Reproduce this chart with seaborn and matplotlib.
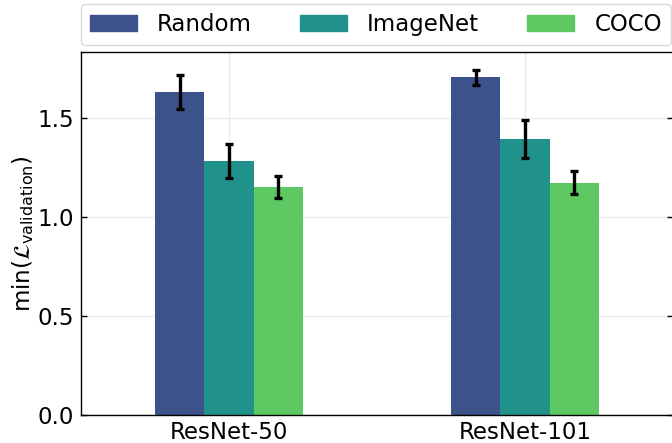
import matplotlib
matplotlib.use("Agg")
import matplotlib.pyplot as plt
import seaborn as sns
import pandas as pd
import numpy as np

# Backbone architectures and pretraining initialisations
models = ["ResNet-50", "ResNet-101"]
inits = ["Random", "ImageNet", "COCO"]

# Minimum validation loss (mean and standard deviation over runs)
random_mean = [1.63, 1.705]
random_std = [0.085, 0.037]
imagenet_mean = [1.283, 1.392]
imagenet_std = [0.086, 0.095]
coco_mean = [1.153, 1.172]
coco_std = [0.056, 0.058]

means = {"Random": random_mean, "ImageNet": imagenet_mean, "COCO": coco_mean}
stds = {"Random": random_std, "ImageNet": imagenet_std, "COCO": coco_std}

df = pd.DataFrame(
    [(m, init, means[init][i], stds[init][i])
     for init in inits for i, m in enumerate(models)],
    columns=["model", "init", "loss", "std"],
)

sns.set_theme(style="whitegrid")
plt.rcParams["font.family"] = ["DejaVu Sans"]
plt.rcParams["mathtext.fontset"] = "dejavusans"
for key in ["text.color", "axes.labelcolor", "xtick.color", "ytick.color"]:
    plt.rcParams[key] = "black"
FS = 16.5

fig = plt.figure(figsize=(6.72, 4.43), dpi=100)
ax = fig.add_axes([81 / 672, 28 / 443, 592 / 672, 362.5 / 443])

palette = sns.color_palette("viridis", 3)
sns.barplot(data=df, x="model", y="loss", hue="init", order=models,
            hue_order=inits, palette=palette, width=0.5, errorbar=None,
            saturation=1, linewidth=0, ax=ax)

# Error bars on top of each bar
for init, cont in zip(inits, ax.containers):
    for i, bar in enumerate(cont):
        xc = bar.get_x() + bar.get_width() / 2
        ax.errorbar(xc, means[init][i], yerr=stds[init][i], color="black",
                    elinewidth=2.4, capsize=3.2, capthick=2.4, zorder=5)

ax.set_xlim(-0.5, 1.5)
ax.set_ylim(0, 1.83)
ax.set_yticks([0.0, 0.5, 1.0, 1.5])
ax.set_xlabel("")
ax.set_ylabel(r"min($\mathcal{L}_{\rm validation}$)", fontsize=FS, labelpad=1)

ax.set_axisbelow(True)
ax.grid(True, color="#ebebeb", linewidth=1.0)
for s in ax.spines.values():
    s.set_visible(True)
    s.set_color("black")
    s.set_linewidth(1.0)
ax.tick_params(axis="y", direction="in", left=True, right=True, length=4,
               width=1, color="black", labelsize=FS, pad=5)
ax.tick_params(axis="x", direction="in", bottom=True, length=4, width=1,
               color="black", labelsize=FS, pad=4)

if ax.get_legend() is not None:
    ax.get_legend().remove()
handles = [plt.Rectangle((0, 0), 1, 1, color=c) for c in palette]
leg = fig.legend(handles, inits, loc="center", ncol=3,
                 bbox_to_anchor=(376 / 672, 1 - 24.5 / 443),
                 fontsize=FS, frameon=True, fancybox=True,
                 handlelength=2.05, handleheight=0.75, handletextpad=0.87,
                 columnspacing=2.1, borderpad=0.4)
leg.get_frame().set_edgecolor("#d0d0d0")
leg.get_frame().set_linewidth(1.0)

fig.savefig("out.png", dpi=100)
